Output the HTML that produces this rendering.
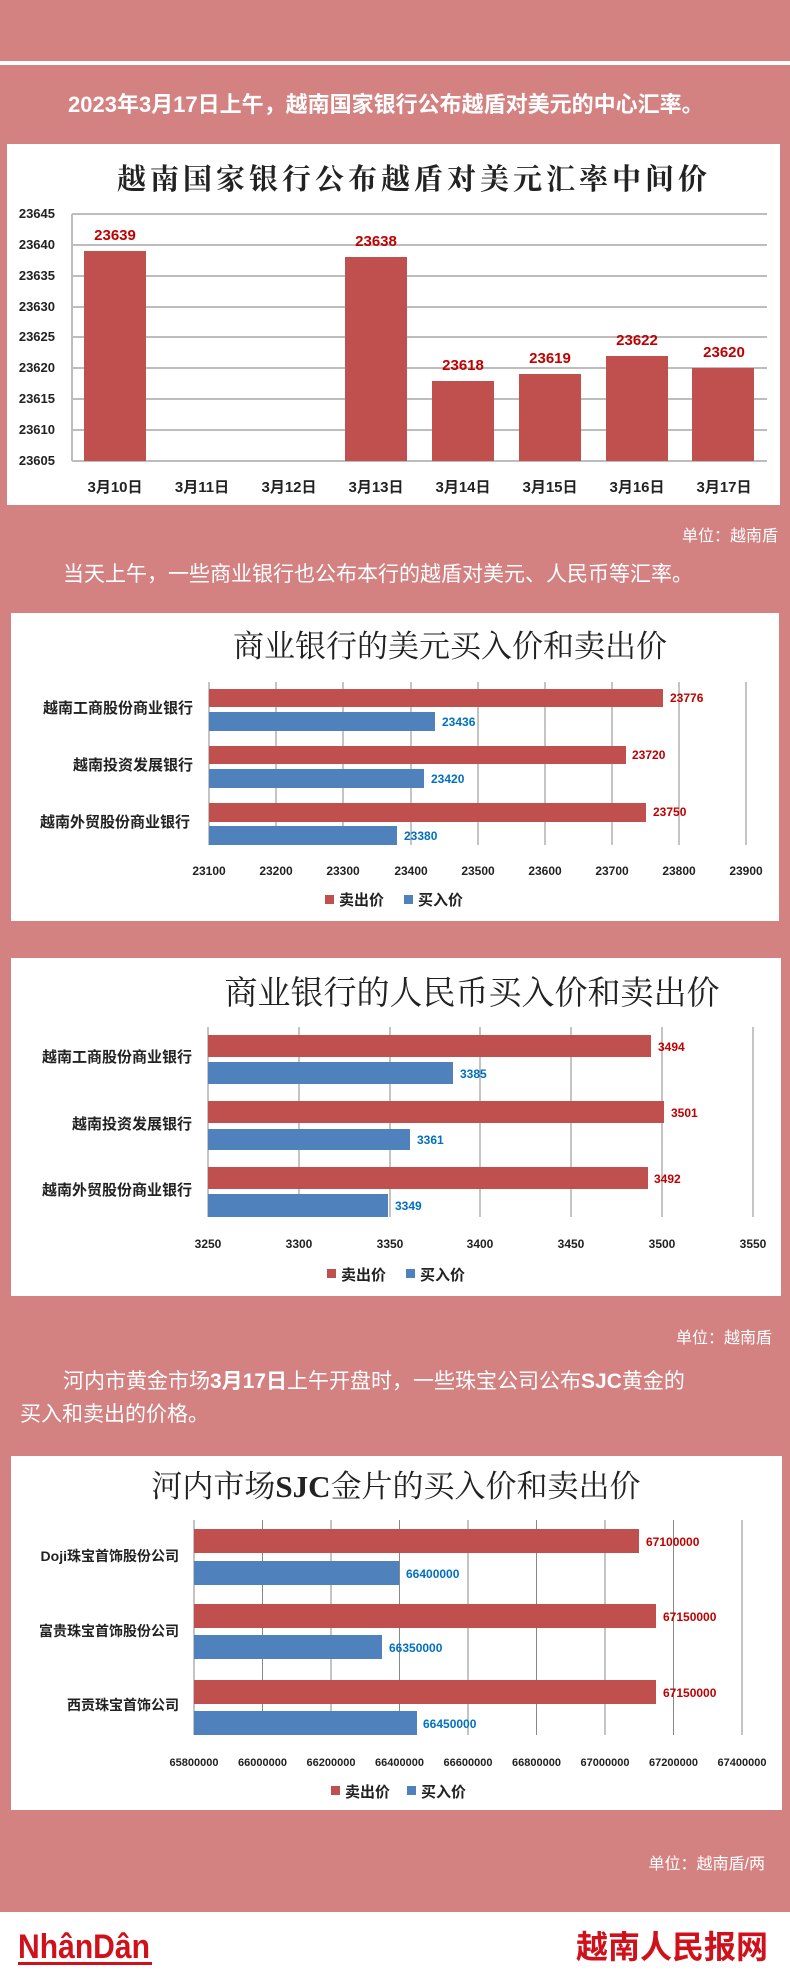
<!DOCTYPE html>
<html><head><meta charset="utf-8"><style>
html,body{margin:0;padding:0;background:#d48181;}
svg{display:block}
.t{font-family:"Liberation Sans","Noto Sans CJK SC",sans-serif;}
.s{font-family:"Liberation Serif","Noto Serif CJK SC",serif;}
</style></head><body>
<svg width="790" height="1975" viewBox="0 0 790 1975" xmlns="http://www.w3.org/2000/svg">
<rect width="790" height="1975" fill="#d48181"/>
<rect x="0" y="61" width="790" height="4" fill="#fff"/>
<text class="t" x="68" y="112" font-size="22" fill="#fff" font-weight="bold">2023年3月17日上午，越南国家银行公布越盾对美元的中心汇率。</text>

<!-- Chart 1 -->
<rect x="7" y="144" width="773" height="361" fill="#fff"/>
<text class="s" x="414" y="189" font-size="29" font-weight="bold" text-anchor="middle" letter-spacing="4" fill="#222">越南国家银行公布越盾对美元汇率中间价</text>
<g stroke="#bdbdbd" stroke-width="2">
<line x1="72" y1="214" x2="767" y2="214"/><line x1="72" y1="245" x2="767" y2="245"/>
<line x1="72" y1="276" x2="767" y2="276"/><line x1="72" y1="307" x2="767" y2="307"/>
<line x1="72" y1="337" x2="767" y2="337"/><line x1="72" y1="368" x2="767" y2="368"/>
<line x1="72" y1="399" x2="767" y2="399"/><line x1="72" y1="430" x2="767" y2="430"/>
<line x1="72" y1="461" x2="767" y2="461"/><line x1="72" y1="214" x2="72" y2="461"/>
</g>
<g class="t" font-size="13" font-weight="bold" fill="#222" text-anchor="end">
<text x="55" y="218">23645</text><text x="55" y="249">23640</text><text x="55" y="280">23635</text>
<text x="55" y="311">23630</text><text x="55" y="341">23625</text><text x="55" y="372">23620</text>
<text x="55" y="403">23615</text><text x="55" y="434">23610</text><text x="55" y="465">23605</text>
</g>
<g fill="#c0504d">
<rect x="84" y="251" width="62" height="210"/><rect x="345" y="257" width="62" height="204"/>
<rect x="432" y="381" width="62" height="80"/><rect x="519" y="374" width="62" height="87"/>
<rect x="606" y="356" width="62" height="105"/><rect x="692" y="368" width="62" height="93"/>
</g>
<g class="t" font-size="15" font-weight="bold" fill="#c00000" text-anchor="middle">
<text x="115" y="240">23639</text><text x="376" y="246">23638</text><text x="463" y="370">23618</text>
<text x="550" y="363">23619</text><text x="637" y="345">23622</text><text x="724" y="357">23620</text>
</g>
<g class="t" font-size="15" font-weight="bold" fill="#222" text-anchor="middle">
<text x="115" y="492">3月10日</text><text x="202" y="492">3月11日</text><text x="289" y="492">3月12日</text>
<text x="376" y="492">3月13日</text><text x="463" y="492">3月14日</text><text x="550" y="492">3月15日</text>
<text x="637" y="492">3月16日</text><text x="724" y="492">3月17日</text>
</g>

<text class="t" x="778" y="541" font-size="16" fill="#fff" text-anchor="end">单位：越南盾</text>
<text class="t" x="63" y="581" font-size="21" fill="#fff">当天上午，一些商业银行也公布本行的越盾对美元、人民币等汇率。</text>

<!-- Chart 2 -->
<rect x="11" y="613" width="768" height="308" fill="#fff"/>
<text class="s" x="450" y="657" font-size="31" text-anchor="middle" fill="#222">商业银行的美元买入价和卖出价</text>
<g stroke="#888" stroke-width="1">
<line x1="209" y1="682" x2="209" y2="845"/><line x1="276" y1="682" x2="276" y2="845"/>
<line x1="343" y1="682" x2="343" y2="845"/><line x1="411" y1="682" x2="411" y2="845"/>
<line x1="478" y1="682" x2="478" y2="845"/><line x1="545" y1="682" x2="545" y2="845"/>
<line x1="612" y1="682" x2="612" y2="845"/><line x1="679" y1="682" x2="679" y2="845"/>
<line x1="746" y1="682" x2="746" y2="845"/>
</g>
<rect x="209" y="689" width="454" height="18" fill="#c0504d"/>
<rect x="209" y="712" width="226" height="19" fill="#4f81bd"/>
<rect x="209" y="746" width="417" height="18" fill="#c0504d"/>
<rect x="209" y="769" width="215" height="19" fill="#4f81bd"/>
<rect x="209" y="803" width="437" height="19" fill="#c0504d"/>
<rect x="209" y="826" width="188" height="19" fill="#4f81bd"/>
<g class="t" font-size="12" font-weight="bold">
<text x="670" y="702" fill="#c00000">23776</text><text x="442" y="726" fill="#0070c0">23436</text>
<text x="632" y="759" fill="#c00000">23720</text><text x="431" y="783" fill="#0070c0">23420</text>
<text x="653" y="816" fill="#c00000">23750</text><text x="404" y="840" fill="#0070c0">23380</text>
</g>
<g class="t" font-size="15" font-weight="bold" fill="#222" text-anchor="end">
<text x="193" y="713">越南工商股份商业银行</text><text x="193" y="770">越南投资发展银行</text><text x="190" y="827">越南外贸股份商业银行</text>
</g>
<g class="t" font-size="12" font-weight="bold" fill="#222" text-anchor="middle">
<text x="209" y="875">23100</text><text x="276" y="875">23200</text><text x="343" y="875">23300</text>
<text x="411" y="875">23400</text><text x="478" y="875">23500</text><text x="545" y="875">23600</text>
<text x="612" y="875">23700</text><text x="679" y="875">23800</text><text x="746" y="875">23900</text>
</g>
<rect x="325" y="895" width="9" height="9" fill="#c0504d"/><text class="t" x="339" y="905" font-size="15" font-weight="bold" fill="#222">卖出价</text>
<rect x="404" y="895" width="9" height="9" fill="#4f81bd"/><text class="t" x="418" y="905" font-size="15" font-weight="bold" fill="#222">买入价</text>

<!-- Chart 3 -->
<rect x="11" y="958" width="770" height="338" fill="#fff"/>
<text class="s" x="472" y="1004" font-size="33" text-anchor="middle" fill="#222">商业银行的人民币买入价和卖出价</text>
<g stroke="#888" stroke-width="1">
<line x1="208" y1="1027" x2="208" y2="1217"/><line x1="299" y1="1027" x2="299" y2="1217"/>
<line x1="390" y1="1027" x2="390" y2="1217"/><line x1="480" y1="1027" x2="480" y2="1217"/>
<line x1="571" y1="1027" x2="571" y2="1217"/><line x1="662" y1="1027" x2="662" y2="1217"/>
<line x1="753" y1="1027" x2="753" y2="1217"/>
</g>
<rect x="208" y="1035" width="443" height="22" fill="#c0504d"/>
<rect x="208" y="1062" width="245" height="22" fill="#4f81bd"/>
<rect x="208" y="1101" width="456" height="22" fill="#c0504d"/>
<rect x="208" y="1129" width="202" height="21" fill="#4f81bd"/>
<rect x="208" y="1167" width="440" height="22" fill="#c0504d"/>
<rect x="208" y="1194" width="180" height="23" fill="#4f81bd"/>
<g class="t" font-size="12" font-weight="bold">
<text x="658" y="1051" fill="#c00000">3494</text><text x="460" y="1078" fill="#0070c0">3385</text>
<text x="671" y="1117" fill="#c00000">3501</text><text x="417" y="1144" fill="#0070c0">3361</text>
<text x="654" y="1183" fill="#c00000">3492</text><text x="395" y="1210" fill="#0070c0">3349</text>
</g>
<g class="t" font-size="15" font-weight="bold" fill="#222" text-anchor="end">
<text x="192" y="1062">越南工商股份商业银行</text><text x="192" y="1129">越南投资发展银行</text><text x="192" y="1195">越南外贸股份商业银行</text>
</g>
<g class="t" font-size="12" font-weight="bold" fill="#222" text-anchor="middle">
<text x="208" y="1248">3250</text><text x="299" y="1248">3300</text><text x="390" y="1248">3350</text>
<text x="480" y="1248">3400</text><text x="571" y="1248">3450</text><text x="662" y="1248">3500</text><text x="753" y="1248">3550</text>
</g>
<rect x="327" y="1269" width="9" height="9" fill="#c0504d"/><text class="t" x="341" y="1280" font-size="15" font-weight="bold" fill="#222">卖出价</text>
<rect x="406" y="1269" width="9" height="9" fill="#4f81bd"/><text class="t" x="420" y="1280" font-size="15" font-weight="bold" fill="#222">买入价</text>

<text class="t" x="772" y="1343" font-size="16" fill="#fff" text-anchor="end">单位：越南盾</text>
<text class="t" x="63" y="1388" font-size="21" fill="#fff">河内市黄金市场<tspan font-weight="bold">3月17日</tspan>上午开盘时，一些珠宝公司公布<tspan font-weight="bold">SJC</tspan>黄金的</text>
<text class="t" x="20" y="1421" font-size="21" fill="#fff">买入和卖出的价格。</text>

<!-- Chart 4 -->
<rect x="11" y="1456" width="771" height="354" fill="#fff"/>
<text class="s" x="396" y="1497" font-size="31" text-anchor="middle" fill="#222">河内市场<tspan font-weight="bold">SJC</tspan>金片的买入价和卖出价</text>
<g stroke="#888" stroke-width="1">
<line x1="194" y1="1520" x2="194" y2="1735"/><line x1="262.5" y1="1520" x2="262.5" y2="1735"/>
<line x1="331" y1="1520" x2="331" y2="1735"/><line x1="399.5" y1="1520" x2="399.5" y2="1735"/>
<line x1="468" y1="1520" x2="468" y2="1735"/><line x1="536.5" y1="1520" x2="536.5" y2="1735"/>
<line x1="605" y1="1520" x2="605" y2="1735"/><line x1="673.5" y1="1520" x2="673.5" y2="1735"/>
<line x1="742" y1="1520" x2="742" y2="1735"/>
</g>
<rect x="194" y="1529" width="445" height="24" fill="#c0504d"/>
<rect x="194" y="1561" width="205" height="24" fill="#4f81bd"/>
<rect x="194" y="1604" width="462" height="24" fill="#c0504d"/>
<rect x="194" y="1635" width="188" height="24" fill="#4f81bd"/>
<rect x="194" y="1680" width="462" height="24" fill="#c0504d"/>
<rect x="194" y="1711" width="223" height="24" fill="#4f81bd"/>
<g class="t" font-size="12" font-weight="bold">
<text x="646" y="1546" fill="#c00000">67100000</text><text x="406" y="1578" fill="#0070c0">66400000</text>
<text x="663" y="1621" fill="#c00000">67150000</text><text x="389" y="1652" fill="#0070c0">66350000</text>
<text x="663" y="1697" fill="#c00000">67150000</text><text x="423" y="1728" fill="#0070c0">66450000</text>
</g>
<g class="t" font-size="14" font-weight="bold" fill="#222" text-anchor="end">
<text x="179" y="1561">Doji珠宝首饰股份公司</text><text x="179" y="1636">富贵珠宝首饰股份公司</text><text x="179" y="1710">西贡珠宝首饰公司</text>
</g>
<g class="t" font-size="11" font-weight="bold" fill="#222" text-anchor="middle">
<text x="194" y="1766">65800000</text><text x="262.5" y="1766">66000000</text><text x="331" y="1766">66200000</text>
<text x="399.5" y="1766">66400000</text><text x="468" y="1766">66600000</text><text x="536.5" y="1766">66800000</text>
<text x="605" y="1766">67000000</text><text x="673.5" y="1766">67200000</text><text x="742" y="1766">67400000</text>
</g>
<rect x="331" y="1786" width="9" height="9" fill="#c0504d"/><text class="t" x="345" y="1797" font-size="15" font-weight="bold" fill="#222">卖出价</text>
<rect x="407" y="1786" width="9" height="9" fill="#4f81bd"/><text class="t" x="421" y="1797" font-size="15" font-weight="bold" fill="#222">买入价</text>

<text class="t" x="765" y="1869" font-size="16" fill="#fff" text-anchor="end">单位：越南盾/两</text>

<!-- footer -->
<rect x="0" y="1912" width="790" height="63" fill="#fff"/>
<text class="t" x="18" y="1958" font-size="34" font-weight="bold" fill="#d0101a" textLength="132" lengthAdjust="spacingAndGlyphs">NhânDân</text>
<rect x="18" y="1962" width="134" height="3" fill="#d0101a"/>
<text class="t" x="768" y="1958" font-size="32" font-weight="bold" fill="#d0101a" text-anchor="end">越南人民报网</text>
</svg>
</body></html>
